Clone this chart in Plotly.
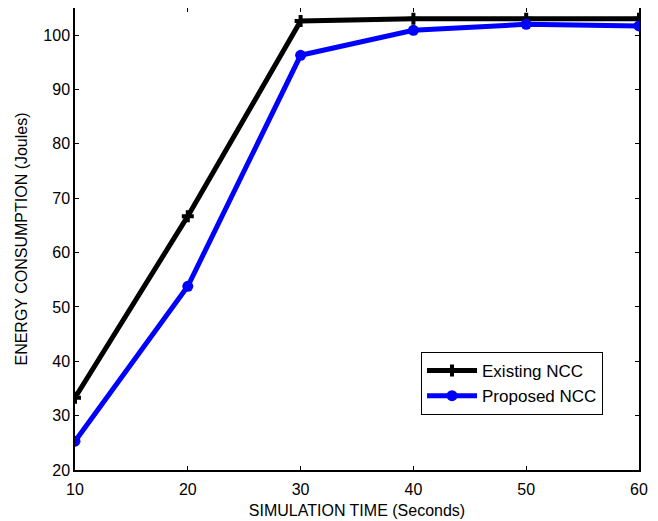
import plotly.graph_objects as go

sim_time = [10, 20, 30, 40, 50, 60]
existing_ncc = [33.3, 66.7, 102.6, 103.0, 103.0, 103.0]
proposed_ncc = [25.3, 53.8, 96.3, 100.9, 102.0, 101.7]

FONT = "Liberation Sans, Arial, sans-serif"

fig = go.Figure()
fig.add_trace(go.Scatter(
    x=sim_time, y=existing_ncc, name="Existing NCC", mode="lines+markers",
    line=dict(color="black", width=5),
    marker=dict(symbol="cross", size=10, color="black"),
))
fig.add_trace(go.Scatter(
    x=sim_time, y=proposed_ncc, name="Proposed NCC", mode="lines+markers",
    line=dict(color="#0000ff", width=5),
    marker=dict(symbol="circle", size=11, color="#0000ff"),
))

axis_common = dict(
    showgrid=False, zeroline=False, showline=True, linecolor="black", linewidth=1.5,
    mirror="allticks", ticks="inside", ticklen=4, tickcolor="black",
    tickfont=dict(family=FONT, size=16, color="black"), automargin=False,
)
fig.update_xaxes(range=[10, 60], tickvals=[10, 20, 30, 40, 50, 60],
                 ticklabelstandoff=4,
                 title=dict(text="SIMULATION TIME (Seconds)", standoff=8,
                            font=dict(family=FONT, size=16, color="black")),
                 **axis_common)
fig.update_yaxes(range=[20, 105], tickvals=[20, 30, 40, 50, 60, 70, 80, 90, 100],
                 title=dict(text="ENERGY CONSUMPTION (Joules)", standoff=12,
                            font=dict(family=FONT, size=16, color="black")),
                 **axis_common)

fig.update_layout(
    width=650, height=513,
    margin=dict(l=67, r=19, t=0, b=51),
    paper_bgcolor="white", plot_bgcolor="white",
    font=dict(family=FONT, size=16, color="black"),
    legend=dict(x=0.6135, y=0.2554, xanchor="left", yanchor="top",
                bgcolor="white", bordercolor="black", borderwidth=1,
                font=dict(family=FONT, size=17, color="black"),
                itemwidth=50, tracegroupgap=0),
    showlegend=True,
)

fig.write_html("out.html")
